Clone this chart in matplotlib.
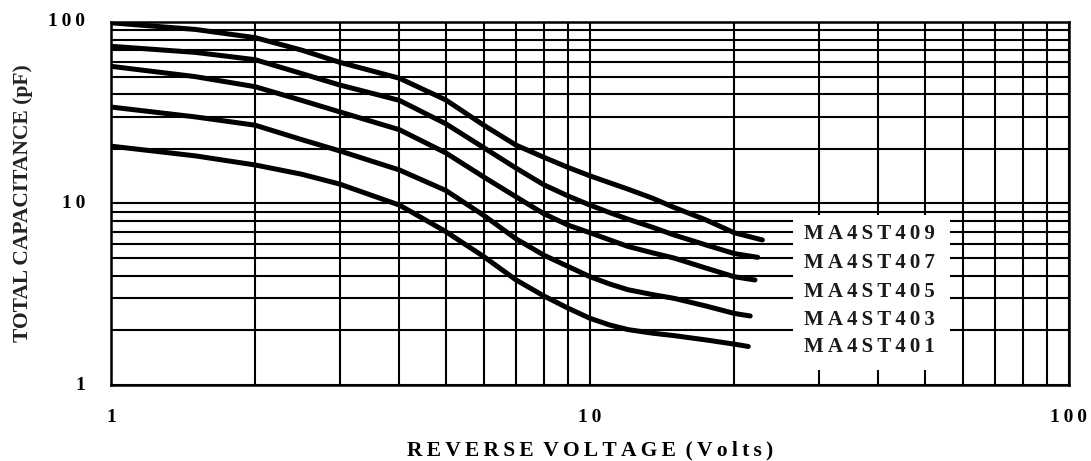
import matplotlib
matplotlib.use("Agg")
import matplotlib.pyplot as plt
from matplotlib.ticker import LogLocator, NullFormatter, FixedLocator, FixedFormatter
from matplotlib.patches import Rectangle
import numpy as np

# ---- data ----
v409 = [1, 1.5, 2, 2.5, 3, 4, 5, 6, 7, 8, 9, 10, 11, 12, 13.5, 15, 17.5, 20, 22.9]
c409 = [99, 91, 82, 70, 60, 49, 37.2, 27, 21, 18, 15.8, 14.2, 13.0, 12.0, 10.7, 9.5, 8.1, 6.9, 6.3]

v407 = [1, 1.5, 2, 2.5, 3, 4, 5, 6, 7, 8, 9, 10, 11, 12, 13.5, 15, 17.5, 20, 22.4]
c407 = [73.5, 68, 62, 52, 45, 37, 27.5, 20.3, 15.7, 12.7, 11.0, 9.8, 8.9, 8.2, 7.4, 6.7, 5.9, 5.3, 5.05]

v405 = [1, 1.5, 2, 2.5, 3, 4, 5, 6, 7, 8, 9, 10, 11, 12, 13.5, 15, 17.5, 20, 22.1]
c405 = [57, 50, 44, 37, 32, 25.5, 19.0, 14.0, 10.9, 8.8, 7.6, 6.9, 6.3, 5.8, 5.35, 5.0, 4.4, 3.95, 3.79]

v403 = [1, 1.5, 2, 2.5, 3, 4, 5, 6, 7, 8, 9, 10, 11, 12, 13.5, 15, 17.5, 20, 21.6]
c403 = [34, 30, 27, 22.5, 19.5, 15.3, 11.8, 8.6, 6.4, 5.2, 4.5, 3.95, 3.6, 3.35, 3.15, 3.0, 2.72, 2.48, 2.4]

v401 = [1, 1.5, 2, 2.5, 3, 4, 5, 6, 7, 8, 9, 10, 11, 12, 13.5, 15, 17.5, 20, 21.4]
c401 = [20.7, 18.3, 16.3, 14.5, 12.8, 9.8, 7.0, 5.1, 3.8, 3.1, 2.65, 2.33, 2.14, 2.02, 1.93, 1.87, 1.77, 1.68, 1.63]

series_labels = ["MA4ST409", "MA4ST407", "MA4ST405", "MA4ST403", "MA4ST401"]
x_ticks = [1, 10, 100]
x_tick_labels = ["1", "10", "100"]
y_ticks = [1, 10, 100]
y_tick_labels = ["1", "10", "100"]
x_title = "REVERSE VOLTAGE (Volts)"
y_title = "TOTAL CAPACITANCE (pF)"

SERIF = ["Liberation Serif", "DejaVu Serif"]
THIN = "\u2009"


def spaced(s, sp=THIN):
    words = s.split(" ")
    return (" " + sp).join(sp.join(w) for w in words)


W, H = 1091, 461
fig = plt.figure(figsize=(W / 100, H / 100), dpi=100)
ax = fig.add_axes([111 / W, 1 - 385 / H, (1069 - 111) / W, (385 - 22) / H])

ax.set_xscale("log")
ax.set_yscale("log")
ax.set_xlim(1, 100)
ax.set_ylim(1, 100)

ax.xaxis.set_major_locator(FixedLocator(x_ticks))
ax.xaxis.set_major_formatter(FixedFormatter([]))
ax.yaxis.set_major_locator(FixedLocator(y_ticks))
ax.yaxis.set_major_formatter(FixedFormatter([]))
ax.xaxis.set_minor_locator(LogLocator(base=10, subs=np.arange(2, 10)))
ax.yaxis.set_minor_locator(LogLocator(base=10, subs=np.arange(2, 10)))
ax.xaxis.set_minor_formatter(NullFormatter())
ax.yaxis.set_minor_formatter(NullFormatter())
ax.tick_params(which="both", length=0)

ax.set_axisbelow(True)
ax.grid(True, which="both", color="black", linewidth=1.5)
for sp in ax.spines.values():
    sp.set_linewidth(1.8)
    sp.set_color("black")
    sp.set_zorder(4)

# white legend box covering the grid
ax.add_patch(Rectangle(((793 - 111) / 958, (385 - 370) / 363),
                       (950 - 793) / 958, (370 - 215) / 363,
                       transform=ax.transAxes, facecolor="white",
                       edgecolor="none", zorder=1.5))

for v, c in [(v409, c409), (v407, c407), (v405, c405), (v403, c403), (v401, c401)]:
    ax.plot(v, c, color="black", linewidth=3.6, solid_capstyle="round",
            solid_joinstyle="round", zorder=3)

label_y = [234, 263, 292, 320, 347]
for lab, py in zip(series_labels, label_y):
    ax.text((869 - 111) / 958, (385 - py) / 363, spaced(lab), transform=ax.transAxes,
            ha="center", va="center", fontsize=15, fontweight="bold",
            family=SERIF, color="#1a1a1a", zorder=4)

# tick labels
for t, lab in zip(y_ticks, y_tick_labels):
    ax.text(-26 / 958, np.log10(t) / 2, spaced(lab), transform=ax.transAxes,
            ha="right", va="center", fontsize=14, fontweight="bold", family=SERIF)
for t, lab in zip(x_ticks, x_tick_labels):
    ax.text(np.log10(t) / 2, -32 / 363, spaced(lab), transform=ax.transAxes,
            ha="center", va="center", fontsize=14, fontweight="bold", family=SERIF)

fig.text(590 / W, 1 - 450 / H, spaced(x_title), ha="center", va="center",
         fontsize=15.5, fontweight="bold", family=SERIF)
fig.text(23 / W, 1 - 203 / H, y_title, ha="center", va="center", rotation=90,
         fontsize=15.5, fontweight="bold", family=SERIF, color="#222222")

fig.savefig("out.png", dpi=100)
